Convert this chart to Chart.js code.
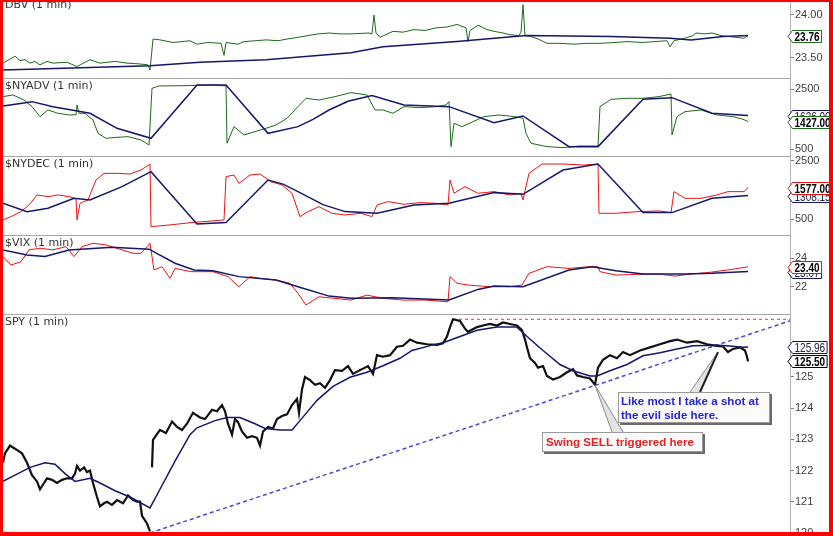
<!DOCTYPE html>
<html>
<head>
<meta charset="utf-8">
<script src="https://cdn.jsdelivr.net/npm/chart.js@4.4.1/dist/chart.umd.min.js"></script>
<style>
html, body { margin: 0; padding: 0; background: #fff; }
#page { position: relative; width: 833px; height: 536px; overflow: hidden; background: #fff; }
.pane { position: absolute; left: 3px; width: 827px; }
.title { position: absolute; left: 5px; font: 11px 'DejaVu Sans', sans-serif; line-height: 13px; color: #333; white-space: nowrap; z-index: 3; }
.sep { position: absolute; left: 3px; width: 787px; height: 1px; background: #a8a8a8; z-index: 2; }
.note { position: absolute; box-sizing: border-box; background: #fbfbfb; border: 1px solid #9a9a9a; box-shadow: 2px 2px 0 #6a6a6a;
        font: bold 11.6px 'Liberation Sans', Arial, sans-serif; white-space: nowrap; z-index: 4; }
#frame { position: absolute; left: 0; top: 0; width: 833px; height: 536px; box-sizing: border-box; border-style: solid;
         border-color: #f00; border-width: 2px 4px 4px 3px; z-index: 10; pointer-events: none; }
</style>
</head>
<body>
<div id="page">
  <div class="pane" style="top:0;height:78px"><canvas id="dbv"></canvas></div>
  <div class="pane" style="top:78px;height:78px"><canvas id="nyadv"></canvas></div>
  <div class="pane" style="top:156px;height:79px"><canvas id="nydec"></canvas></div>
  <div class="pane" style="top:235px;height:79px"><canvas id="vix"></canvas></div>
  <div class="pane" style="top:314px;height:222px"><canvas id="spy"></canvas></div>

  <div class="sep" style="top:78px"></div>
  <div class="sep" style="top:156px"></div>
  <div class="sep" style="top:235px"></div>
  <div class="sep" style="top:314px"></div>

  <div class="title" style="top:-2px">DBV (1 min)</div>
  <div class="title" style="top:79px">$NYADV (1 min)</div>
  <div class="title" style="top:157px">$NYDEC (1 min)</div>
  <div class="title" style="top:236px">$VIX (1 min)</div>
  <div class="title" style="top:315px">SPY (1 min)</div>

  <div class="note" style="left:618px;top:392px;width:152px;height:31px;line-height:14px;padding:1px 0 0 2px;color:#2626d6">Like most I take a shot at<br>the evil side here.</div>
  <div class="note" style="left:542px;top:432px;width:161px;height:20px;line-height:17px;padding:0 0 0 3px;color:#e62222">Swing SELL triggered here</div>

  <div id="frame"></div>
</div>
<script>
// bar = position in the 5-session window of 1-min bars (0 .. 787)
const barMax = 787;

// DBV
const dbvBar = [0, 9, 12, 17, 22, 27, 32, 37, 44, 50, 64, 74, 87, 97, 112, 124, 137, 145, 147, 150, 157, 170, 179, 187, 194, 205, 218, 221, 223, 235, 241, 252, 263, 275, 284, 295, 305, 315, 326, 337, 348, 366, 369, 371, 373, 377, 390, 400, 411, 422, 433, 444, 454, 463, 465, 467, 475, 484, 491, 500, 507, 516, 518, 520, 522, 528, 535, 544, 557, 571, 584, 597, 612, 624, 640, 651, 664, 667, 671, 682, 690, 693, 702, 709, 718, 725, 733, 741, 745];
const dbvVal = [23.44, 23.50, 23.52, 23.47, 23.48, 23.44, 23.46, 23.42, 23.46, 23.44, 23.45, 23.40, 23.48, 23.44, 23.46, 23.44, 23.43, 23.42, 23.36, 23.72, 23.71, 23.68, 23.69, 23.70, 23.66, 23.68, 23.67, 23.53, 23.68, 23.66, 23.69, 23.70, 23.71, 23.70, 23.72, 23.74, 23.76, 23.78, 23.79, 23.78, 23.78, 23.79, 23.78, 24.00, 23.79, 23.74, 23.81, 23.80, 23.83, 23.82, 23.85, 23.86, 23.89, 23.85, 23.69, 23.82, 23.88, 23.83, 23.81, 23.79, 23.77, 23.76, 23.80, 24.12, 23.76, 23.75, 23.72, 23.67, 23.67, 23.66, 23.67, 23.67, 23.68, 23.69, 23.68, 23.69, 23.70, 23.63, 23.70, 23.73, 23.76, 23.79, 23.78, 23.79, 23.76, 23.75, 23.74, 23.73, 23.76];
const dbvMaBar = [0, 147, 197, 263, 348, 380, 454, 523, 608, 667, 688, 720, 745];
const dbvMaVal = [23.36, 23.41, 23.45, 23.48, 23.56, 23.63, 23.69, 23.76, 23.75, 23.73, 23.71, 23.75, 23.76];
const dbvTicks = [23.5, 24.0];

// $NYADV
const advBar = [0, 10, 21, 29, 37, 45, 55, 66, 73, 74, 76, 82, 90, 95, 103, 114, 125, 138, 146, 149, 156, 183, 210, 223, 224, 231, 241, 252, 263, 273, 284, 295, 303, 316, 332, 348, 364, 372, 380, 390, 401, 417, 433, 443, 446, 448, 451, 459, 470, 481, 496, 512, 520, 523, 528, 544, 560, 576, 595, 597, 608, 624, 640, 656, 668, 669, 674, 682, 698, 714, 730, 740, 745];
const advVal = [2256, 2311, 2144, 1922, 1589, 1811, 1700, 1644, 1650, 1978, 1700, 1700, 1478, 1033, 867, 900, 922, 811, 644, 2533, 2611, 2622, 2644, 2611, 700, 1256, 978, 1089, 1200, 1311, 1533, 1922, 2200, 2144, 2256, 2389, 2311, 1811, 1811, 1700, 1922, 1889, 1922, 1978, 2089, 589, 1367, 1256, 1422, 1589, 1644, 1589, 1533, 1033, 700, 589, 556, 611, 611, 1922, 2167, 2200, 2200, 2256, 2344, 978, 1589, 1756, 1811, 1644, 1589, 1500, 1427];
const advMaBar = [0, 14, 29, 50, 87, 114, 148, 194, 223, 265, 295, 310, 326, 345, 369, 401, 446, 491, 520, 566, 595, 640, 669, 709, 745];
const advMaVal = [1944, 2010, 2089, 1922, 1700, 1200, 867, 2644, 2644, 1033, 1256, 1500, 1811, 2100, 2289, 1978, 1922, 1389, 1611, 589, 589, 2167, 2222, 1700, 1626];
const advTicks = [500, 1000, 1500, 2000, 2500];

// $NYDEC
const decBar = [0, 8, 18, 26, 34, 45, 55, 66, 73, 74, 77, 85, 93, 101, 114, 127, 138, 147, 148, 167, 188, 210, 221, 223, 231, 236, 247, 257, 268, 279, 289, 297, 305, 316, 329, 342, 358, 369, 374, 385, 401, 417, 433, 445, 447, 451, 462, 475, 491, 507, 518, 520, 526, 539, 560, 581, 595, 596, 613, 635, 656, 668, 671, 682, 698, 714, 725, 741, 745];
const decVal = [478, 591, 762, 989, 1330, 1273, 1330, 1273, 1200, 478, 1046, 1160, 1841, 2068, 2068, 2046, 2182, 2386, 250, 307, 387, 444, 478, 1955, 2011, 1727, 2011, 2046, 1784, 1671, 1387, 591, 762, 932, 705, 648, 705, 591, 989, 1103, 1012, 1069, 1046, 989, 1841, 1387, 1614, 1387, 1444, 1330, 1387, 1160, 2068, 2386, 2386, 2352, 2386, 705, 705, 762, 785, 728, 1444, 1216, 1216, 1330, 1444, 1444, 1577];
const decMaBar = [0, 24, 45, 71, 87, 119, 148, 194, 223, 265, 280, 295, 320, 342, 374, 411, 446, 491, 520, 560, 595, 640, 669, 709, 745];
const decMaVal = [1046, 762, 875, 1216, 1160, 1614, 2125, 341, 387, 1841, 1700, 1444, 1000, 762, 705, 989, 1046, 1410, 1353, 2182, 2386, 728, 728, 1216, 1308.15];
const decTicks = [500, 1000, 1500, 2000, 2500];

// $VIX
const vixBar = [0, 8, 18, 26, 37, 50, 63, 71, 79, 90, 103, 119, 130, 138, 147, 151, 159, 167, 172, 188, 210, 225, 236, 247, 257, 273, 287, 295, 303, 316, 332, 348, 364, 380, 401, 422, 445, 447, 454, 465, 486, 507, 519, 526, 544, 566, 587, 595, 597, 613, 635, 656, 672, 688, 704, 725, 745];
const vixVal = [24.12, 23.53, 23.76, 24.59, 24.71, 24.59, 24.82, 24.12, 24.82, 25.06, 24.94, 24.59, 24.35, 24.35, 25.06, 23.18, 23.41, 22.59, 23.29, 23.06, 23.06, 22.71, 22.00, 22.71, 22.59, 22.47, 22.24, 21.53, 20.71, 21.29, 21.18, 21.06, 21.41, 21.18, 21.06, 21.06, 20.94, 22.71, 22.24, 22.12, 22.00, 22.00, 22.12, 22.94, 23.41, 23.29, 23.41, 23.41, 23.06, 22.82, 22.87, 22.89, 22.75, 22.89, 22.99, 23.18, 23.40];
const vixMaBar = [0, 24, 42, 66, 109, 146, 172, 191, 210, 236, 273, 295, 326, 348, 390, 446, 475, 491, 520, 566, 589, 613, 640, 682, 709, 745];
const vixMaVal = [24.59, 24.24, 24.12, 24.59, 24.78, 24.64, 23.65, 23.18, 23.13, 22.71, 22.47, 22.00, 21.34, 21.18, 21.22, 21.06, 21.81, 22.05, 22.00, 23.18, 23.41, 23.13, 22.89, 22.89, 22.94, 23.07];
const vixTicks = [22, 24];

// SPY (null = overnight gap)
const spyBar = [0, 2, 7, 12, 19, 24, 29, 34, 37, 41, 44, 49, 54, 59, 64, 69, 72, 74, 77, 81, 84, 87, 90, 94, 97, 101, 104, 109, 114, 120, 125, 130, 134, 137, 139, 144, 147, 148,
  149, 150, 157, 163, 169, 174, 179, 184, 190, 197, 202, 209, 214, 219, 222, 225, 229, 232, 235, 239, 244, 249, 254, 257, 260, 265, 270, 274, 279, 284, 289, 294, 296, 299, 302, 307, 312, 317, 322, 327, 332, 339, 345, 350, 357, 365, 370, 374, 380, 387, 394, 400, 407, 414, 424, 434, 440, 444,
  447, 450, 457, 462, 465, 474, 480, 487, 494, 500, 507, 514, 519, 522, 524, 527, 532, 535, 540, 544, 550, 557, 564, 570, 574, 580, 587, 592, 595, 600, 607, 614, 620, 627, 637, 647, 657, 667, 674, 684, 694, 704, 714, 720, 725, 730, 737, 742, 744, 745];
const spyPrice = [122.25, 122.55, 122.8, 122.7, 122.55, 122.25, 121.85, 121.65, 121.4, 121.6, 121.75, 121.7, 121.6, 121.7, 121.75, 121.75, 121.9, 122.15, 122.0, 122.1, 121.95, 122.0, 121.6, 121.15, 120.85, 120.95, 121.0, 120.9, 121.05, 120.95, 121.2, 121.05, 121.0, 121.0, 120.55, 120.3, 120.05, null,
  122.1, 122.98, 123.3, 123.2, 123.57, 123.4, 123.3, 123.5, 123.85, 123.7, 123.65, 123.95, 123.9, 124.1, 123.9, 123.5, 123.15, 123.65, 123.55, 123.25, 123.05, 123.1, 123.05, 122.8, 123.25, 123.4, 123.35, 123.65, 123.75, 123.8, 124.1, 124.3, 123.85, 124.6, 125.0, 124.9, 124.75, 124.8, 124.65, 124.9, 125.22, 125.2, 125.35, 125.1, 125.22, 125.35, 125.1, 125.7, 125.65, 125.7, 125.97, 126.0, 126.2, 126.1, 126.05, 126.03, 126.08, 126.3,
  126.6, 126.85, 126.8, 126.55, 126.45, 126.6, 126.65, 126.7, 126.65, 126.75, 126.7, 126.65, 126.5, 126.2, 125.95, 125.6, 125.45, 125.3, 125.35, 125.03, 124.92, 125.0, 125.15, 125.25, 125.05, 125.0, 124.95, 124.75, 125.3, 125.55, 125.7, 125.6, 125.8, 125.7, 125.85, 125.95, 126.05, 126.15, 126.2, 126.1, 126.15, 126.05, 126.0, 125.98, 125.8, 125.9, 125.95, 125.85, 125.65, 125.5];
const spyMaBar = [0, 12, 27, 42, 52, 62, 72, 87, 97, 112, 127, 147, 157, 172, 187, 194, 212, 224, 237, 252, 262, 277, 289, 297, 314, 330, 347, 364, 380, 397, 409, 430, 440, 457, 474, 494, 514, 524, 540, 557, 570, 587, 594, 607, 624, 640, 657, 674, 690, 714, 724, 740, 745];
const spyMaVal = [121.65, 121.85, 122.1, 122.25, 122.2, 121.9, 121.65, 121.75, 121.6, 121.35, 121.15, 120.8, 121.4, 122.3, 123.15, 123.37, 123.6, 123.7, 123.7, 123.5, 123.35, 123.3, 123.3, 123.6, 124.25, 124.7, 124.99, 125.15, 125.36, 125.6, 125.85, 126.03, 126.1, 126.3, 126.5, 126.6, 126.6, 126.3, 125.85, 125.4, 125.2, 125.03, 125.03, 125.2, 125.4, 125.68, 125.78, 125.9, 126.0, 126.02, 126.0, 125.95, 125.96];
const spyTicks = [120, 121, 122, 123, 124, 125, 126];

// hand-drawn trend lines on SPY
const supportBar = [147, 787];
const supportVal = [120.0, 126.8];
const highBar = [450, 787];
const highVal = [126.85, 126.85];

const GREEN = '#1d6b1d', NAVY = '#16166a', RED = '#ee1111';

function pts(xs, ys) {
  return xs.map((x, i) => ({ x: x, y: ys[i] }));
}

const badgePlugin = {
  id: 'badges',
  afterDraw(chart) {
    const list = chart.options.plugins.badges || [];
    const ctx = chart.ctx;
    const ys = chart.scales.y;
    const ax = chart.chartArea.right;
    list.forEach(b => {
      const data = chart.data.datasets[b.ds].data;
      const last = data[data.length - 1].y;
      const py = Math.round(ys.getPixelForValue(last)) + 0.5;
      const txt = last.toFixed(2);
      ctx.save();
      ctx.font = (b.bold ? 'bold ' : '') + '13px "Liberation Sans", Arial, sans-serif';
      const sx = 0.77;
      const w = ctx.measureText(txt).width * sx;
      const h = 12, x0 = ax + 2.5, x1 = x0 + w + 4;
      ctx.beginPath();
      ctx.moveTo(ax - 2, py);
      ctx.lineTo(x0, py - h / 2);
      ctx.lineTo(x1, py - h / 2);
      ctx.lineTo(x1, py + h / 2);
      ctx.lineTo(x0, py + h / 2);
      ctx.closePath();
      ctx.fillStyle = '#fff';
      ctx.fill();
      ctx.lineWidth = 1;
      ctx.strokeStyle = b.color;
      ctx.stroke();
      ctx.translate(x0 + 2, py + 0.5);
      ctx.scale(sx, 1);
      ctx.fillStyle = b.bold ? '#000' : '#222244';
      ctx.textBaseline = 'middle';
      ctx.fillText(txt, 0, 0);
      ctx.restore();
    });
  }
};

const calloutPlugin = {
  id: 'callouts',
  afterDraw(chart) {
    const list = chart.options.plugins.callouts || [];
    const ctx = chart.ctx;
    const pane = chart.canvas.parentNode;
    const offX = pane.offsetLeft, offY = pane.offsetTop;
    list.forEach(c => {
      const tx = chart.scales.x.getPixelForValue(c.bar);
      const ty = chart.scales.y.getPixelForValue(c.value);
      const lx = c.baseLeft - offX, rx = c.baseRight - offX, by = c.baseY - offY;
      ctx.save();
      ctx.beginPath();
      ctx.moveTo(tx, ty);
      ctx.lineTo(lx, by);
      ctx.lineTo(rx, by);
      ctx.closePath();
      ctx.fillStyle = '#e4e4e4';
      ctx.fill();
      ctx.lineWidth = 1;
      ctx.strokeStyle = '#8a8a8a';
      ctx.beginPath(); ctx.moveTo(tx, ty); ctx.lineTo(lx, by); ctx.stroke();
      ctx.strokeStyle = c.dark ? '#202020' : '#8a8a8a';
      ctx.lineWidth = c.dark ? 2 : 1;
      ctx.beginPath(); ctx.moveTo(tx, ty); ctx.lineTo(rx, by); ctx.stroke();
      ctx.restore();
    });
  }
};

Chart.register(badgePlugin, calloutPlugin);

function line(data, color, width, order, dash) {
  return {
    data: data, borderColor: color, borderWidth: width, order: order,
    borderDash: dash || [], pointRadius: 0, tension: 0, fill: false, spanGaps: false
  };
}

function panel(id, yMin, yMax, ticks, digits, datasets, badges, callouts) {
  return new Chart(document.getElementById(id), {
    type: 'line',
    data: { datasets: datasets },
    options: {
      animation: false,
      responsive: true,
      maintainAspectRatio: false,
      layout: { padding: 0 },
      events: [],
      plugins: { legend: { display: false }, tooltip: { enabled: false }, badges: badges, callouts: callouts || [] },
      scales: {
        x: { type: 'linear', min: 0, max: barMax, display: false },
        y: {
          position: 'right', min: yMin, max: yMax,
          grid: { drawOnChartArea: false, drawTicks: true, tickLength: 4, color: '#808080' },
          border: { display: true, color: '#b4b4b4' },
          ticks: {
            padding: 1, color: '#404040', font: { family: "'Liberation Sans', Arial, sans-serif", size: 11 },
            callback: v => digits ? Number(v).toFixed(digits) : String(v)
          },
          afterBuildTicks: s => { s.ticks = ticks.map(v => ({ value: v })); },
          afterFit: s => { s.width = 40; s.paddingTop = 0; s.paddingBottom = 0; }
        }
      }
    }
  });
}

panel('dbv', 23.267, 24.174, dbvTicks, 2, [
  line(pts(dbvMaBar, dbvMaVal), NAVY, 1.5, 0),
  line(pts(dbvBar, dbvVal), GREEN, 1, 1)
], [{ ds: 1, color: GREEN, bold: true }]);

panel('nyadv', 277, 2877, advTicks, 0, [
  line(pts(advMaBar, advMaVal), NAVY, 1.5, 0),
  line(pts(advBar, advVal), GREEN, 1, 1)
], [{ ds: 0, color: NAVY, bold: false }, { ds: 1, color: GREEN, bold: true }]);

panel('nydec', -36, 2660, decTicks, 0, [
  line(pts(decMaBar, decMaVal), NAVY, 1.5, 0),
  line(pts(decBar, decVal), RED, 1, 1)
], [{ ds: 0, color: NAVY, bold: false }, { ds: 1, color: RED, bold: true }]);

panel('vix', 20.08, 25.64, vixTicks, 0, [
  line(pts(vixMaBar, vixMaVal), NAVY, 1.5, 0),
  line(pts(vixBar, vixVal), RED, 1, 1)
], [{ ds: 0, color: NAVY, bold: false }, { ds: 1, color: RED, bold: true }]);

panel('spy', 119.9, 127.02, spyTicks, 0, [
  line(pts(spyMaBar, spyMaVal), NAVY, 1.5, 0),
  line(pts(spyBar, spyPrice), '#111', 2.2, 1),
  line(pts(supportBar, supportVal), '#4a4ad8', 1.5, 2, [4, 3]),
  line(pts(highBar, highVal), '#e23a3a', 1, 3, [3, 3])
], [{ ds: 0, color: NAVY, bold: false }, { ds: 1, color: '#000', bold: true }], [
  { bar: 592, value: 124.74, baseLeft: 612, baseRight: 623, baseY: 432, dark: false },
  { bar: 715, value: 125.8, baseLeft: 690, baseRight: 700, baseY: 392, dark: true }
]);
</script>
</body>
</html>
